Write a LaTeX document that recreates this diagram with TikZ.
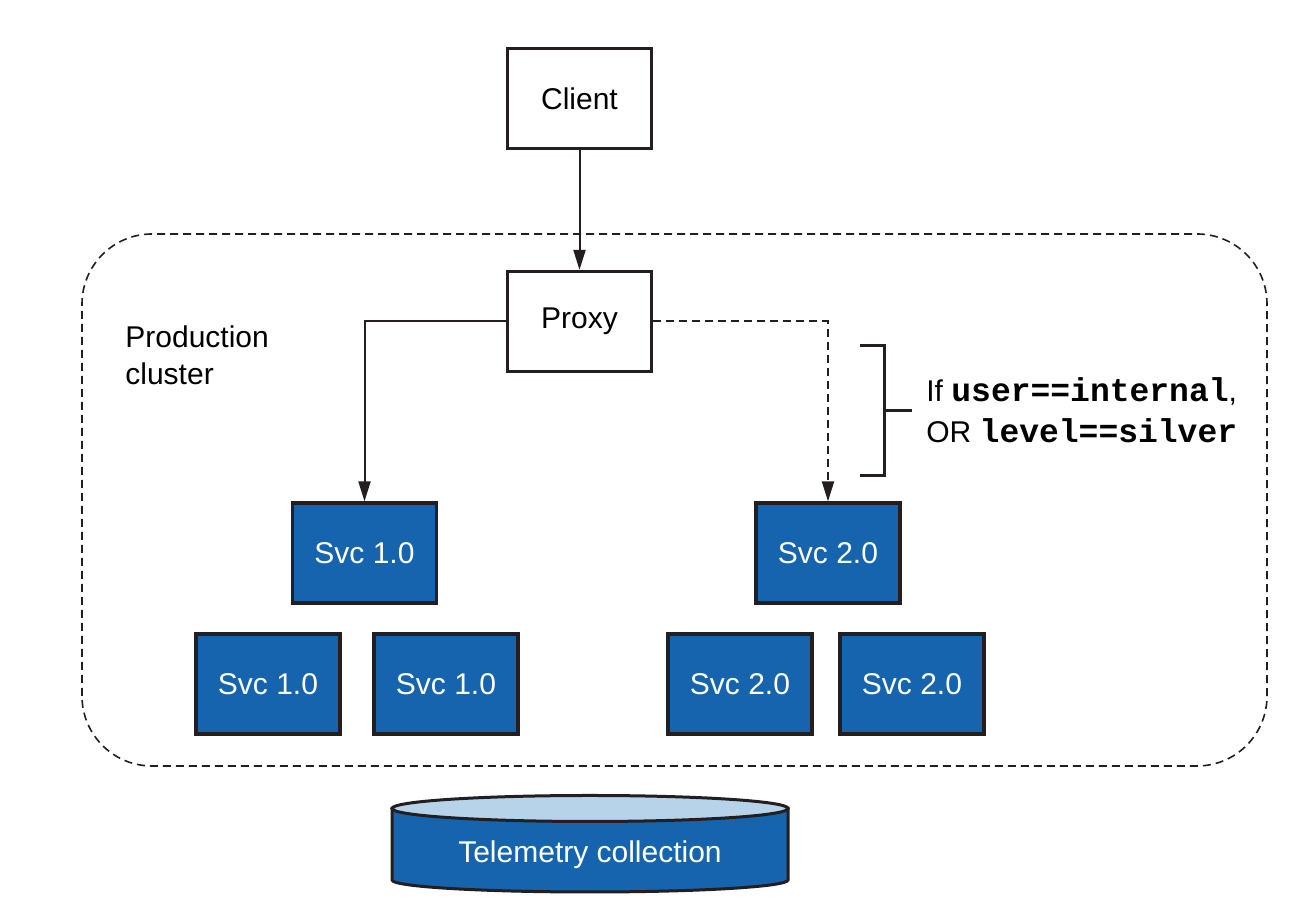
\documentclass[tikz,border=0pt]{standalone}
\usepackage{fontspec}
\setmainfont{Liberation Sans}
\setmonofont{Liberation Mono}
\usetikzlibrary{arrows.meta}
\definecolor{svcblue}{RGB}{21,100,173}
\definecolor{disktop}{RGB}{183,211,234}
\definecolor{inkline}{RGB}{35,31,32}
\newcommand{\condcode}[1]{{\ttfamily\bfseries\fontsize{16.5}{20.5}\selectfont #1}}

\begin{document}
\begin{tikzpicture}[x=0.5pt, y=0.5pt, font=\fontsize{15}{18}\selectfont,
  box/.style={draw=inkline, line width=1.6pt, minimum width=72pt, minimum height=50pt, inner sep=0pt},
  svc/.style={box, fill=svcblue, text=white},
  link/.style={draw=inkline, line width=1pt, -{Triangle[length=10pt,width=6pt]}},
  cluster/.style={draw=inkline, line width=0.8pt, dash pattern=on 4pt off 2.5pt, rounded corners=35pt}]

\useasboundingbox (0,0) rectangle (1302,919);

% cluster outline
\draw[cluster] (82,153) rectangle (1267,685);
\node[anchor=base west, align=left, inner sep=0pt, font=\fontsize{15}{18.5}\selectfont] (clusterlabel) at (125,534) {Production\\cluster};

\node[box] (client) at (579.5,820.5) {Client};
\node[box] (proxy) at (579.5,597.5) {Proxy};

\foreach \n/\x/\y/\ver in {1/364.5/366/1.0, 2/268/235/1.0, 3/446/235/1.0, 4/828/366/2.0, 5/740/235/2.0, 6/912/235/2.0}
  \node[svc] (svc\n) at (\x,\y) {Svc \ver};

\draw[link] (client) -- (proxy);
\draw[link] (proxy.west) -| (svc1.north);
\draw[link, dash pattern=on 4pt off 2.5pt] (proxy.east) -| (svc4.north);

% condition bracket
\coordinate (brtop) at (860,573);
\coordinate (brbot) at (860,443);
\coordinate (brmid) at (912,508);
\begin{scope}[draw=inkline, line width=1.5pt]
\draw (brtop) -- (884,573) -- (884,443) -- (brbot);
\draw (884,508) -- (brmid);
\end{scope}
\node[anchor=base west, align=left, inner sep=0pt, font=\fontsize{15}{20.5}\selectfont] (cond) at (926,476) {If \condcode{user==internal},\\OR \condcode{level==silver}};

% telemetry store
\draw[line width=1.5pt, draw=inkline, fill=svcblue] (392,110.5) -- (392,39) arc[start angle=180, end angle=360, x radius=99pt, y radius=6pt] -- (788,110.5) -- cycle;
\draw[line width=1.5pt, draw=inkline, fill=disktop] (590,110.5) ellipse [x radius=99pt, y radius=6.5pt];
\node[text=white] (telemetry) at (590,64) {Telemetry collection};

\end{tikzpicture}
\end{document}
